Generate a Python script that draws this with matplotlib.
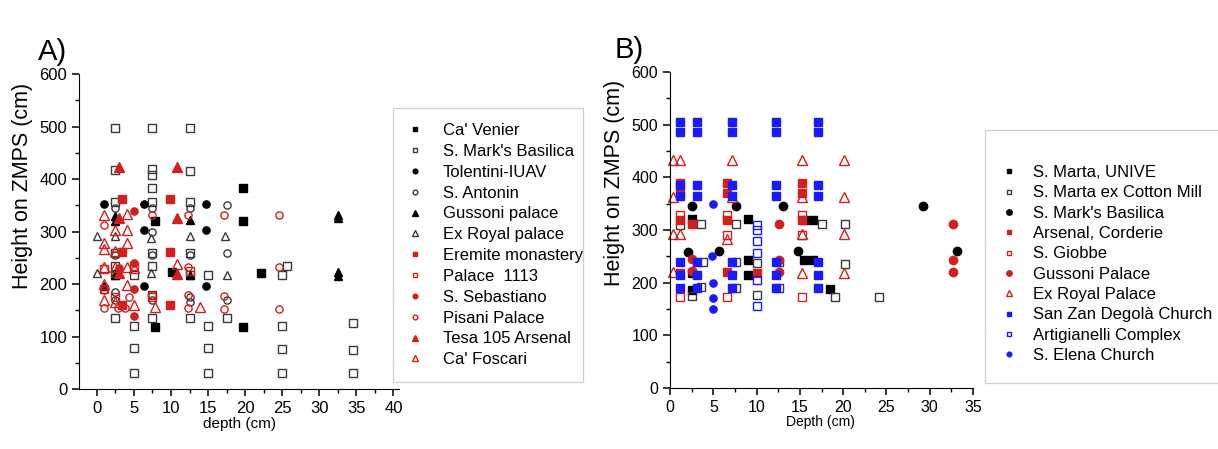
import matplotlib.pyplot as plt
from matplotlib.ticker import MultipleLocator
from matplotlib.patches import Rectangle

plt.rcParams['font.family'] = ['Liberation Sans', 'DejaVu Sans']

# ---- panel A data (depth cm, height cm) ----
ca_venier_d = [7.8, 7.8, 10.2, 19.7, 19.7, 22.2, 19.7]
ca_venier_h = [118, 320, 222, 383, 320, 221, 118]

smark_a_d = [2.5, 2.5, 2.5, 2.5, 2.5, 2.5, 2.5, 5, 5, 5, 5,
             7.5, 7.5, 7.5, 7.5, 7.5, 7.5, 7.5, 7.5, 7.5,
             12.5, 12.5, 12.5, 12.5, 12.5, 12.5, 15, 15, 15, 15, 17.5,
             25, 25, 25, 25, 25.7, 34.5, 34.5, 34.5]
smark_a_h = [497, 417, 357, 260, 235, 217, 135, 218, 120, 78, 30,
             497, 420, 407, 383, 357, 260, 235, 180, 135,
             497, 415, 357, 260, 217, 135, 218, 120, 78, 30, 135,
             218, 120, 76, 30, 235, 125, 75, 30]

tolentini_d = [1, 6.3, 6.3, 14.7, 14.7, 6.3, 14.7]
tolentini_h = [352, 352, 302, 352, 302, 197, 197]

antonin_d = [2.5, 2.5, 2.5, 2.5, 7.5, 7.5, 7.5, 7.5, 12.5, 12.5, 12.5, 12.5, 17.5, 17.5, 17.5]
antonin_h = [345, 255, 185, 170, 345, 300, 255, 170, 345, 255, 175, 165, 350, 259, 170]

gussoni_a_d = [2.5, 2.5, 2.5, 1, 32.5, 32.5, 32.5, 32.5, 12.5, 12.5]
gussoni_a_h = [330, 320, 218, 197, 332, 325, 222, 216, 322, 218]

exroyal_a_d = [0, 0, 2.4, 7.3, 12.5, 17.3, 7.3, 17.5, 2.4]
exroyal_a_h = [291, 221, 291, 288, 291, 291, 221, 218, 221]

eremite_d = [3.4, 9.8, 3.4, 9.8, 9.8, 3.4]
eremite_h = [362, 362, 261, 261, 160, 160]

palace1113_d = [1, 1, 2.5, 5, 7.5, 12.5]
palace1113_h = [228, 190, 175, 235, 175, 225]

sebastiano_d = [5, 5, 5, 5, 3]
sebastiano_h = [340, 240, 190, 140, 230]

pisani_d = [1, 1, 1, 2.9, 4.4, 3.8, 7.4, 7.4, 12.3, 12.3, 12.3, 12.3,
            17.1, 17.1, 17.1, 24.6, 24.6, 24.6]
pisani_h = [312, 189, 155, 155, 176, 155, 331, 179, 331, 232, 179, 155,
            331, 178, 152, 331, 233, 152]

tesa_d = [3, 10.8, 3, 10.8, 3, 10.8]
tesa_h = [423, 423, 325, 325, 221, 220]

foscari_d = [1, 1, 1, 1, 1, 2.4, 4, 4, 4, 2.4, 2.4, 4, 5, 4, 2.4, 5, 7.8, 13.9, 10.8, 1]
foscari_h = [331, 278, 266, 232, 170, 303, 333, 303, 278, 262, 232, 232, 230, 198, 165, 160,
             157, 157, 238, 200]

# ---- panel B data ----
marta_d = [2.5, 9, 9, 9, 2.5, 2.5, 15.5, 16.5, 15.5, 16.5, 18.5]
marta_h = [320, 320, 243, 214, 218, 186, 319, 319, 243, 243, 188]

cotton_d = [1.2, 3.6, 7.6, 10, 10, 3.8, 2.5, 3.6, 7.6, 7.6, 12.6, 12.6, 17.6, 20.2, 20.2, 19.1, 24.1]
cotton_h = [309, 311, 311, 237, 177, 239, 175, 192, 239, 190, 239, 190, 311, 311, 235, 173, 173]

smark_b_d = [2.5, 7.6, 13.1, 2.1, 5.6, 14.8, 29.2, 33.2]
smark_b_h = [345, 345, 345, 258, 260, 260, 345, 260]

corderie_d = [1.2, 1.2, 6.6, 6.6, 1.2, 2.5, 6.6, 15.2, 15.2, 15.2, 10, 6.6, 1.2]
corderie_h = [390, 370, 390, 370, 319, 311, 319, 390, 370, 319, 218, 220, 218]

giobbe_d = [1.2, 1.2, 6.6, 6.6, 15.2, 15.2, 6.6, 15.2]
giobbe_h = [328, 173, 328, 173, 328, 173, 290, 290]

gussoni_b_d = [2.5, 2.5, 12.6, 12.6, 12.6, 32.7, 32.7, 32.7]
gussoni_b_h = [245, 222, 311, 243, 220, 311, 243, 220]

exroyal_b_d = [0.4, 1.2, 7.2, 0.4, 7.2, 0.4, 1.2, 6.6, 0.4, 15.2, 20.1, 20.1, 20.1, 20.1, 15.2, 15.2, 15.2]
exroyal_b_h = [432, 432, 432, 362, 362, 292, 292, 283, 220, 432, 432, 362, 292, 219, 362, 292, 219]

sanzan_d = [1.2, 1.2, 1.2, 1.2, 1.2, 1.2, 1.2,
            3.1, 3.1, 3.1, 3.1, 3.1, 3.1, 3.1,
            7.2, 7.2, 7.2, 7.2, 7.2, 7.2, 7.2,
            12.2, 12.2, 12.2, 12.2, 12.2, 12.2, 12.2,
            17.1, 17.1, 17.1, 17.1, 17.1, 17.1, 17.1]
sanzan_h = [505, 486, 385, 365, 240, 215, 190,
            505, 486, 385, 365, 240, 215, 190,
            505, 486, 385, 365, 240, 215, 190,
            505, 486, 385, 365, 240, 215, 190,
            505, 486, 385, 365, 240, 215, 190]

artig_d = [10, 10, 10, 10, 10, 10]
artig_h = [310, 300, 280, 256, 205, 155]

elena_d = [5, 4.8, 5, 5, 5]
elena_h = [350, 250, 200, 170, 150]

BLK = '#000000'
GRY = '#3a3a3a'
RED = '#d41f1f'
BLU = '#1a1aff'

fig = plt.figure(figsize=(12.18, 4.49), dpi=100)
axA = fig.add_axes([0.0649, 0.1336, 0.263, 0.7014])
axB = fig.add_axes([0.5501, 0.1359, 0.2488, 0.7037])


def pts(ax, d, h, m, col, filled, label, ms=5.2):
    ax.plot(d, h, ls='none', marker=m, ms=ms, mec=col, mew=1.0,
            mfc=col if filled else 'none', label=label, clip_on=False)


pts(axA, ca_venier_d, ca_venier_h, 's', BLK, True, "Ca' Venier")
pts(axA, smark_a_d, smark_a_h, 's', GRY, False, "S. Mark's Basilica")
pts(axA, tolentini_d, tolentini_h, 'o', BLK, True, "Tolentini-IUAV")
pts(axA, antonin_d, antonin_h, 'o', GRY, False, "S. Antonin")
pts(axA, gussoni_a_d, gussoni_a_h, '^', BLK, True, "Gussoni palace", 6)
pts(axA, exroyal_a_d, exroyal_a_h, '^', GRY, False, "Ex Royal palace", 6)
pts(axA, eremite_d, eremite_h, 's', RED, True, "Eremite monastery")
pts(axA, palace1113_d, palace1113_h, 's', RED, False, "Palace  1113")
pts(axA, sebastiano_d, sebastiano_h, 'o', RED, True, "S. Sebastiano")
pts(axA, pisani_d, pisani_h, 'o', RED, False, "Pisani Palace")
pts(axA, tesa_d, tesa_h, '^', RED, True, "Tesa 105 Arsenal", 6.5)
pts(axA, foscari_d, foscari_h, '^', RED, False, "Ca' Foscari", 6.5)

pts(axB, marta_d, marta_h, 's', BLK, True, "S. Marta, UNIVE")
pts(axB, cotton_d, cotton_h, 's', GRY, False, "S. Marta ex Cotton Mill")
pts(axB, smark_b_d, smark_b_h, 'o', BLK, True, "S. Mark's Basilica", 6)
pts(axB, corderie_d, corderie_h, 's', RED, True, "Arsenal, Corderie")
pts(axB, giobbe_d, giobbe_h, 's', RED, False, "S. Giobbe")
pts(axB, gussoni_b_d, gussoni_b_h, 'o', RED, True, "Gussoni Palace", 6)
pts(axB, exroyal_b_d, exroyal_b_h, '^', RED, False, "Ex Royal Palace", 6.5)
pts(axB, sanzan_d, sanzan_h, 's', BLU, True, "San Zan Degolà Church")
pts(axB, artig_d, artig_h, 's', BLU, False, "Artigianelli Complex")
pts(axB, elena_d, elena_h, 'o', BLU, True, "S. Elena Church")

for ax, xl, fs, tls in [(axA, 'depth (cm)', 11, 12), (axB, 'Depth (cm)', 10, 11.5)]:
    ax.set_ylim(0, 600)
    ax.spines['top'].set_visible(False)
    ax.spines['right'].set_visible(False)
    ax.yaxis.set_major_locator(MultipleLocator(100))
    ax.yaxis.set_minor_locator(MultipleLocator(50))
    ax.xaxis.set_major_locator(MultipleLocator(5))
    ax.xaxis.set_minor_locator(MultipleLocator(2.5))
    ax.tick_params(which='major', length=5, width=1.1, labelsize=tls)
    ax.tick_params(which='minor', length=3, width=1.0)
    ax.set_ylabel('Height on ZMPS (cm)', fontsize=15.5)
    ax.set_xlabel(xl, fontsize=fs)

axA.yaxis.set_label_coords(-0.145, 0.645)
axB.yaxis.set_label_coords(-0.15, 0.65)
axA.xaxis.set_label_coords(0.5, -0.11)
axB.xaxis.set_label_coords(0.495, -0.108)
axA.xaxis.label.set_va('center')
axB.xaxis.label.set_va('center')
axA.set_xlim(-2.4, 40.8)
axB.set_xlim(0, 35)

# legend boxes
for (x0, y0, w, h) in [(393, 108, 190, 274), (985, 130, 260, 253)]:
    fig.patches.append(Rectangle((x0 / 1218, 1 - (y0 + h) / 449), w / 1218, h / 449,
                                 transform=fig.transFigure, facecolor='white',
                                 edgecolor='#cfcfcf', linewidth=0.9, zorder=0))

hA, lA = axA.get_legend_handles_labels()
fig.legend(hA, lA, loc='upper left', bbox_to_anchor=(0.330, 0.726), frameon=False,
           fontsize=12, markerscale=0.65, handlelength=1.6, handletextpad=0.84,
           labelspacing=0.35, borderpad=0, borderaxespad=0)

hB, lB = axB.get_legend_handles_labels()
fig.legend(hB, lB, loc='upper left', bbox_to_anchor=(0.8177, 0.6325), frameon=False,
           fontsize=12, markerscale=0.65, handlelength=1.6, handletextpad=0.6,
           labelspacing=0.32, borderpad=0, borderaxespad=0)

fig.text(0.031, 0.866, 'A)', fontsize=21)
fig.text(0.505, 0.871, 'B)', fontsize=21)

fig.savefig('out.png', dpi=100)
